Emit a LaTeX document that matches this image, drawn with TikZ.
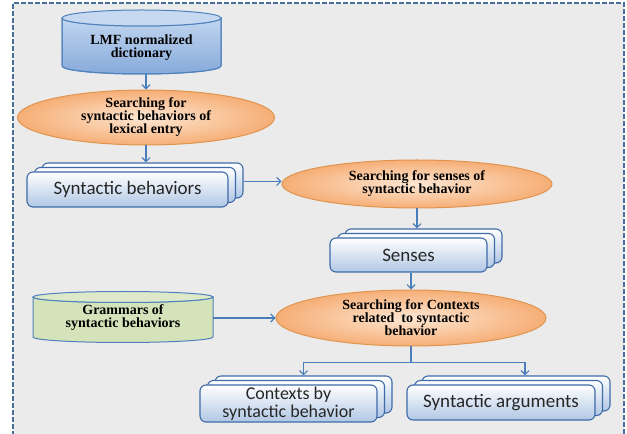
\documentclass[tikz,border=0pt]{standalone}
\usepackage{fontspec}
\setmainfont{Liberation Serif}
\newfontfamily\tnr{Liberation Serif}[BoldFont={Liberation Serif Bold}]
\newfontfamily\calib{Carlito}
\usetikzlibrary{shapes.geometric,arrows.meta,shadows}
\definecolor{bg}{HTML}{EBEBEB}
\definecolor{frame}{HTML}{4A6E9C}
\definecolor{arr}{HTML}{4A7EBB}
\definecolor{boxedge}{HTML}{3E6AA8}
\definecolor{boxlow}{HTML}{B0C7E4}
\definecolor{ellin}{HTML}{FDE7D3}
\definecolor{ellout}{HTML}{F6AE76}
\definecolor{elledge}{HTML}{E0954F}
\definecolor{cyltop}{HTML}{C6D9F1}
\definecolor{cylhi}{HTML}{C2D6F0}
\definecolor{cyllo}{HTML}{86AADB}
\definecolor{grn}{HTML}{D5E3BA}
\definecolor{grntop}{HTML}{DEE9CA}
\definecolor{cyledge}{HTML}{4F81BD}
\begin{document}
\begin{tikzpicture}[x=1pt,y=1pt,
  conn/.style={draw=arr, line width=1.2pt, -{Straight Barb[length=4pt,width=8pt,line width=1.2pt]}},
  proc/.style={ellipse, draw=elledge, line width=1pt, inner color=ellin, outer color=ellout,
    inner sep=0pt, align=center, font=\tnr\fontsize{14}{13}\selectfont\bfseries, text=black},
  layer/.style={general shadow={shadow xshift=15pt, shadow yshift=9pt, draw=boxedge, line width=1.1pt, top color=white, bottom color=boxlow},
    general shadow={shadow xshift=7.5pt, shadow yshift=4.5pt, draw=boxedge, line width=1.1pt, top color=white, bottom color=boxlow}},
  stackbox/.style={layer, rectangle, rounded corners=6pt, draw=boxedge, line width=1.1pt, top color=white, bottom color=boxlow,
    inner sep=0pt, align=center, font=\calib\fontsize{19}{19}\selectfont, text=black!85},
  store/.style={rectangle, inner sep=0pt, align=center, font=\tnr\fontsize{14}{13}\selectfont\bfseries, text=black},
  cyl/.style={draw=cyledge, line width=1pt}
]
\useasboundingbox (0,0) rectangle (627,434);
\fill[white] (0,0) rectangle (627,434);
\fill[bg] (13,0) rectangle (624,431);
\draw[frame, line width=1.3pt, dash pattern=on 5pt off 2pt] (13,-2) -- (13,431) -- (624,431) -- (624,-2);

% LMF cylinder
\shade[cyl, top color=cylhi, bottom color=cyllo] (62,416) -- (62,368) arc[start angle=180,end angle=360,x radius=79.5,y radius=8] -- (221,416) arc[start angle=0,end angle=-180,x radius=79.5,y radius=8] -- cycle;
\draw[cyl] (62,416) -- (62,368) arc[start angle=180,end angle=360,x radius=79.5,y radius=8] -- (221,416);
\filldraw[cyl, fill=cyltop] (141.5,416) ellipse[x radius=79.5, y radius=8];
\node[store, minimum width=159pt, minimum height=52pt] (lmf) at (141.5,386) {LMF normalized\\dictionary};

% Grammars cylinder
\filldraw[cyl, fill=grn] (33,137) -- (33,97) arc[start angle=180,end angle=360,x radius=90,y radius=5.5] -- (213,137) arc[start angle=0,end angle=-180,x radius=90,y radius=5.5] -- cycle;
\filldraw[cyl, fill=grntop] (123,137) ellipse[x radius=90, y radius=5.5];
\node[store, minimum width=180pt, minimum height=49pt] (gram) at (123,116) {Grammars of\\syntactic behaviors};

% processes
\node[proc, minimum width=257pt, minimum height=45pt] (e1) at (146,316.5) {Searching for\\syntactic behaviors of\\lexical entry};
\node[proc, minimum width=270pt, minimum height=48pt] (e2) at (417,250) {Searching for senses of\\syntactic behavior};
\node[proc, minimum width=270pt, minimum height=56pt] (e3) at (411,116) {Searching for Contexts\\related\ \ to syntactic\\behavior};

% stacks
\node[stackbox, minimum width=201pt, minimum height=35pt] (sb) at (127.5,244.5) {Syntactic behaviors};
\node[stackbox, minimum width=157pt, minimum height=34pt] (sen) at (408.5,179) {Senses};
\node[stackbox, minimum width=177pt, minimum height=37pt, font=\calib\fontsize{18}{18.5}\selectfont] (ctx) at (288.5,30.5) {Contexts by\\syntactic behavior};
\node[stackbox, minimum width=188pt, minimum height=35pt] (sa) at (501,31.5) {Syntactic arguments};

% connectors
\draw[conn] (lmf.south -| e1.north) -- (e1.north);
\draw[conn] (e1.south) -- ([yshift=9pt]e1.south |- sb.north);
\draw[conn] ([xshift=15pt,yshift=8pt]sb.east) -- ([yshift=8pt]sb.east -| e2.west);
\draw[conn] (e2.south) -- ([yshift=9pt]e2.south |- sen.north);
\draw[conn] (e3.north |- sen.south) -- (e3.north);
\draw[conn] (gram.east) -- (gram.east -| e3.west);
\coordinate (j) at ([yshift=-16pt]e3.south);
\draw[conn] (e3.south) -- (j) -| ([xshift=15pt,yshift=9pt]ctx.north);
\draw[conn] (j) -| ([xshift=24pt,yshift=9pt]sa.north);
\end{tikzpicture}
\end{document}
